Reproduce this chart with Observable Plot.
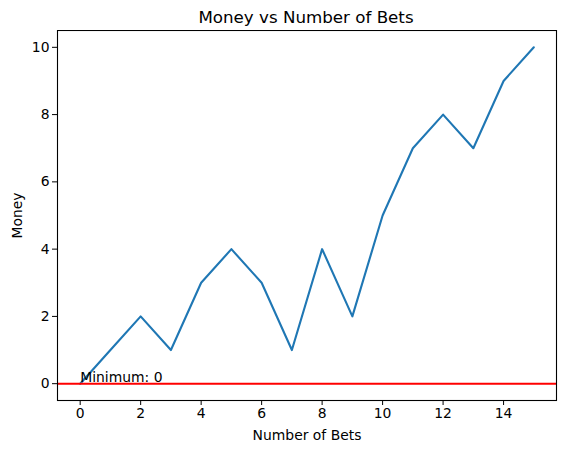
<!DOCTYPE html>
<html>
<head>
<meta charset="utf-8">
<script src="https://cdn.jsdelivr.net/npm/d3@7"></script>
<script src="https://cdn.jsdelivr.net/npm/@observablehq/plot@0.6"></script>
<style>
  body { margin: 0; background: #fff; font-family: "DejaVu Sans", sans-serif; }
  #title { position: relative; height: 30px; width: 563px; }
  #title span { position: absolute; left: 306px; top: 7px; transform: translateX(-50%); font-size: 16.7px; color: #000; white-space: nowrap; }
</style>
</head>
<body>
<div id="title"><span>Money vs Number of Bets</span></div>
<div id="chart"></div>
<script>
const bets = [0, 1, 2, 3, 4, 5, 6, 7, 8, 9, 10, 11, 12, 13, 14, 15];
const money = [0, 1, 2, 1, 3, 4, 3, 1, 4, 2, 5, 7, 8, 7, 9, 10];
const minimum = 0;
const minLabel = "Minimum: " + minimum;
const xTicks = [0, 2, 4, 6, 8, 10, 12, 14];
const yTicks = [0, 2, 4, 6, 8, 10];

const data = bets.map((b, i) => ({bets: b, money: money[i]}));

const chart = Plot.plot({
  width: 563,
  height: 423,
  marginTop: 0,
  marginLeft: 57,
  marginRight: 7,
  marginBottom: 53,
  style: {fontFamily: "DejaVu Sans, sans-serif", fontSize: "13.9px", color: "#000", background: "#fff"},
  x: {domain: [-0.75, 15.75]},
  y: {domain: [-0.5, 10.5]},
  marks: [
    Plot.line(data, {x: "bets", y: "money", stroke: "#1f77b4", strokeWidth: 2.1}),
    Plot.text([minimum], {x: 0, y: d => d, text: () => minLabel, textAnchor: "start", lineAnchor: "bottom", dy: -2, fill: "#000", fontSize: 13.9}),
    Plot.ruleY([minimum], {stroke: "red", strokeWidth: 2.1}),
    Plot.frame({stroke: "#000", strokeWidth: 1.1}),
    Plot.axisX(xTicks, {tickSize: 5, tickPadding: 3, label: "Number of Bets", labelAnchor: "center", labelArrow: "none", labelOffset: 39, fontSize: 13.9}),
    Plot.axisY(yTicks, {tickSize: 5, tickPadding: 3, label: "Money", labelAnchor: "center", labelArrow: "none", labelOffset: 45, fontSize: 13.9})
  ]
});
document.getElementById("chart").appendChild(chart);
</script>
</body>
</html>
